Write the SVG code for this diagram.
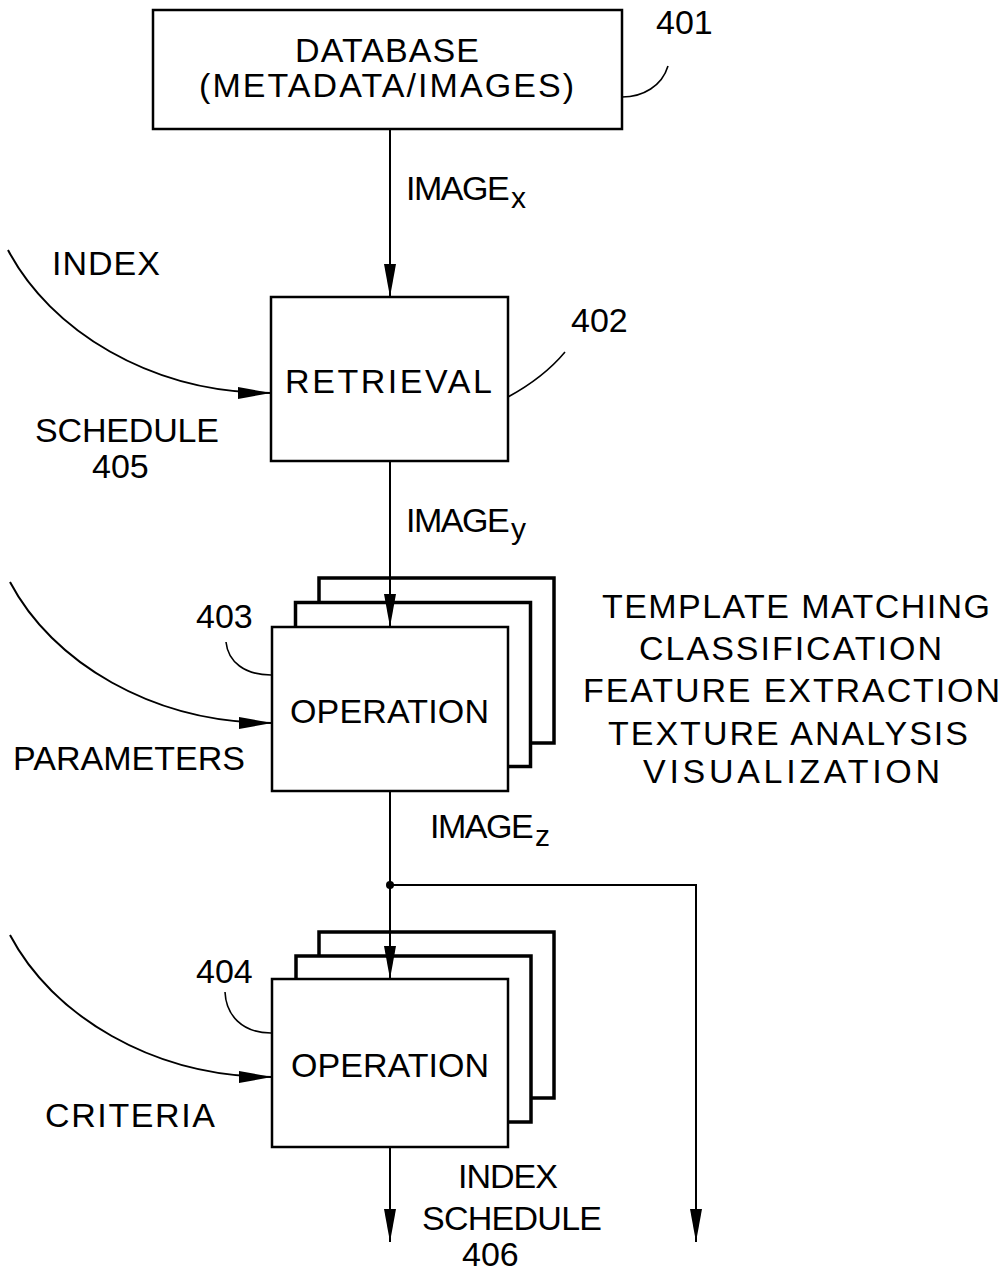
<svg xmlns="http://www.w3.org/2000/svg" width="1006" height="1274" viewBox="0 0 1006 1274">
<style>
  .box { fill: #fff; stroke: #000; stroke-width: 2.5; }
  .bold { fill: #fff; stroke: #000; stroke-width: 3.5; }
  .ln { fill: none; stroke: #000; stroke-width: 2; }
  .ld { fill: none; stroke: #000; stroke-width: 1.6; }
  text { font-family: "Liberation Sans", Arial, sans-serif; font-size: 34px; fill: #000; }
  .img { letter-spacing: -1.5px; }
  .sub { font-size: 30px; letter-spacing: 0; }
</style>
<defs>
  <marker id="arr" viewBox="0 0 33 12" refX="33" refY="6" markerWidth="33" markerHeight="12" markerUnits="userSpaceOnUse" orient="auto">
    <path d="M0,0 L33,6 L0,12 Z" fill="#000"/>
  </marker>
</defs>
<rect width="1006" height="1274" fill="#fff"/>

<g id="node-401">
  <rect class="box" x="153" y="10" width="469" height="119"/>
  <text x="295" y="62" textLength="184">DATABASE</text>
  <text x="199" y="97" textLength="375">(METADATA/IMAGES)</text>
  <text x="656" y="34">401</text>
  <path class="ld" d="M622,97 C643,97 662,86 668,66"/>
</g>

<g id="node-402">
  <rect class="box" x="271" y="297" width="237" height="164"/>
  <text x="285" y="393" textLength="207">RETRIEVAL</text>
  <text x="571" y="332">402</text>
  <path class="ld" d="M508,397 C530,385 550,370 565,352"/>
</g>

<g id="node-403">
  <rect class="bold" x="319" y="578" width="235" height="165"/>
  <rect class="bold" x="295.5" y="602.5" width="235" height="164"/>
  <rect class="box" x="272" y="627" width="236" height="164"/>
  <text x="290" y="723" textLength="199">OPERATION</text>
  <text x="196" y="628">403</text>
  <path class="ld" d="M226,642 C228,662 245,675 271,675"/>
</g>

<g id="node-404">
  <rect class="bold" x="319" y="932" width="235" height="166"/>
  <rect class="bold" x="296" y="956" width="235" height="166"/>
  <rect class="box" x="272" y="979" width="236" height="168"/>
  <text x="291" y="1077" textLength="198">OPERATION</text>
  <text x="196" y="983">404</text>
  <path class="ld" d="M225,992 C226,1015 242,1033 271,1033"/>
</g>

<g id="labels">
  <text x="52" y="275" textLength="108">INDEX</text>
  <text x="35" y="442" textLength="184">SCHEDULE</text>
  <text x="92" y="478">405</text>
  <text x="13" y="770" textLength="232">PARAMETERS</text>
  <text x="45" y="1127" textLength="170">CRITERIA</text>
  <text x="602" y="618" textLength="388">TEMPLATE MATCHING</text>
  <text x="639" y="660" textLength="303">CLASSIFICATION</text>
  <text x="583" y="702" textLength="417">FEATURE EXTRACTION</text>
  <text x="608" y="745" textLength="360">TEXTURE ANALYSIS</text>
  <text x="643" y="783" textLength="297">VISUALIZATION</text>
  <text x="458" y="1188" textLength="100">INDEX</text>
  <text x="422" y="1230" textLength="180">SCHEDULE</text>
  <text x="462" y="1266">406</text>
  <text class="img" x="406" y="200">IMAGE<tspan class="sub" dx="3" dy="8">x</tspan></text>
  <text class="img" x="406" y="532">IMAGE<tspan class="sub" dx="3" dy="7">y</tspan></text>
  <text class="img" x="430" y="838">IMAGE<tspan class="sub" dx="3" dy="8">z</tspan></text>
</g>

<g id="connectors">
  <path class="ln" d="M390,129 V297" marker-end="url(#arr)"/>
  <path class="ln" d="M390,461 V627" marker-end="url(#arr)"/>
  <path class="ln" d="M390,791 V979" marker-end="url(#arr)"/>
  <path class="ln" d="M390,885 H696 V1242" marker-end="url(#arr)"/>
  <path class="ln" d="M390,1147 V1242" marker-end="url(#arr)"/>
  <circle cx="390" cy="885" r="4" fill="#000"/>
  <path class="ln" d="M8,250 C50,330 150,393 271,393" marker-end="url(#arr)"/>
  <path class="ln" d="M10,582 C52,662 152,723 272,723" marker-end="url(#arr)"/>
  <path class="ln" d="M10,935 C52,1015 152,1077 272,1077" marker-end="url(#arr)"/>
</g>
</svg>
